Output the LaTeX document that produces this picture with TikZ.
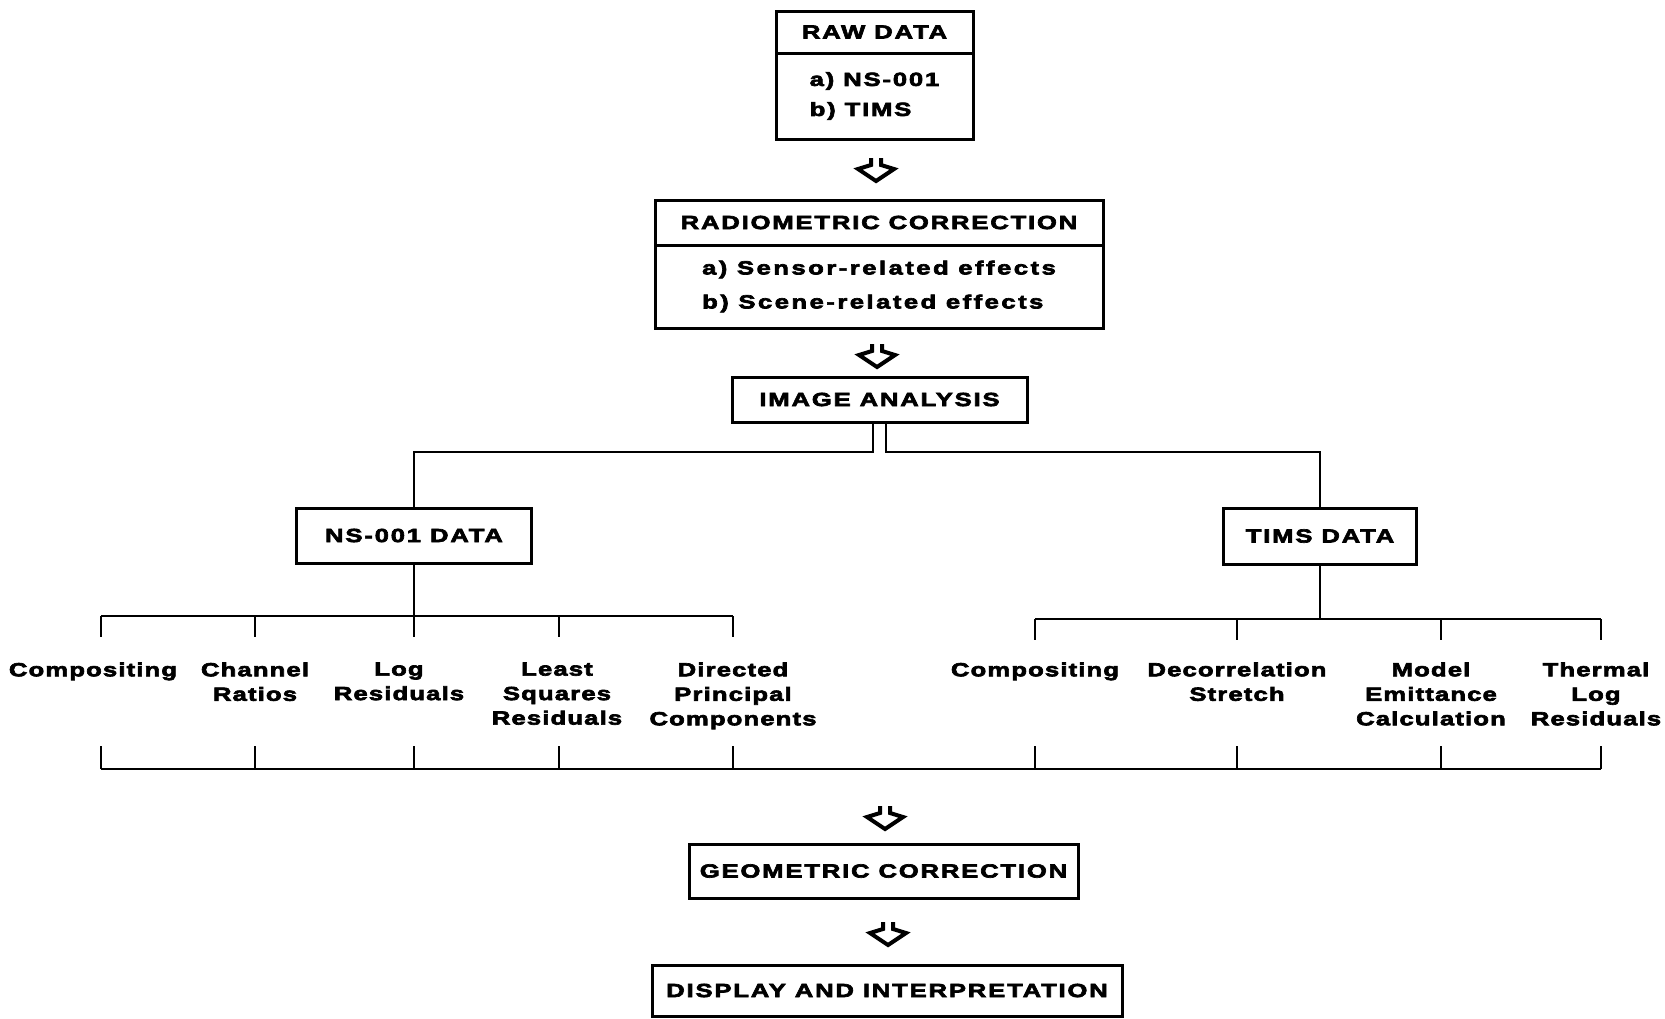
\documentclass[tikz,border=0pt]{standalone}
\usepackage{fontspec}
\setmainfont{Liberation Sans}
\newfontfamily\capsfont{Liberation Sans Bold}[LetterSpace=9.5,FakeStretch=1.35,FakeBold=3.5]
\newfontfamily\listfont{Liberation Sans Bold}[LetterSpace=13,FakeStretch=1.35,FakeBold=3.5]
\newfontfamily\itemfont{Liberation Sans Bold}[LetterSpace=6,FakeStretch=1.35,FakeBold=3.5]
\usepackage{tikz}
\usetikzlibrary{positioning}
\tikzstyle{chart}=[
  x=0.5pt,y=-0.5pt,line width=1.5pt
]
\tikzstyle{headbox}=[
  draw,rectangle,inner sep=0pt,outer sep=0pt,font=\capsfont\fontsize{9.5}{12}\selectfont
]
\tikzstyle{listbox}=[
  draw,rectangle,inner sep=0pt,outer sep=0pt,align=left,font=\listfont\fontsize{9.5}{15}\selectfont
]
\tikzstyle{item}=[
  inner sep=0pt,align=center,anchor=north,font=\itemfont\fontsize{9.5}{12.25}\selectfont
]
\tikzstyle{wire}=[
  line width=1.4pt
]
\tikzset{fatdown/.pic={
  \draw [line width=2pt] (-5,-12) -- (-5,-5) -- (-18,-1) -- (0,11) -- (18,-1) -- (5,-5) -- (5,-12);
}}

\begin{document}
\begin{tikzpicture}[chart]
  \useasboundingbox (0,0) rectangle (1665,1018);
  % boxes
  \node (raw) at (874.5,32) [headbox,minimum width=98.5pt,minimum height=21pt] {RAW DATA};
  \node (rawlist) [listbox,below=0pt of raw,minimum width=98.5pt,minimum height=43pt,font=\capsfont\fontsize{9.5}{15}\selectfont] {a) NS-001\\b) TIMS};
  \node (radio) at (879,222.5) [headbox,minimum width=224pt,minimum height=22.5pt] {RADIOMETRIC CORRECTION};
  \node (radiolist) [listbox,below=0pt of radio,minimum width=224pt,minimum height=41.5pt,font=\listfont\fontsize{9.5}{17}\selectfont] {a) Sensor-related effects\\b) Scene-related effects};
  \node (image) at (879.5,399.5) [headbox,minimum width=147.5pt,minimum height=22.5pt] {IMAGE ANALYSIS};
  \node (ns) at (414,535.5) [headbox,minimum width=117.5pt,minimum height=27.5pt] {NS-001 DATA};
  \node (tims) at (1320,536) [headbox,minimum width=96.5pt,minimum height=28pt] {TIMS DATA};
  \node (geo) at (883.5,871) [headbox,minimum width=194.5pt,minimum height=27pt] {GEOMETRIC CORRECTION};
  \node (disp) at (887,990.5) [headbox,minimum width=235pt,minimum height=25.5pt] {DISPLAY AND INTERPRETATION};
  % arrows
  \pic at (876,170) {fatdown};
  \pic at (877,356) {fatdown};
  \pic at (885,818) {fatdown};
  \pic at (888,934) {fatdown};
  % split
  \draw [wire] ([xshift=-3.25pt]image.south) -- ++(0,30) -| (ns.north);
  \draw [wire] ([xshift=3.25pt]image.south) -- ++(0,30) -| (tims.north);
  \draw [wire] (ns.south) -- ++(0,53);
  \draw [wire] (tims.south) -- ++(0,55);
  % methods
  \foreach \x/\dx/\y/\name/\txt in {
      101/-8/616/l1/Compositing,
      255/0/616/l2/{Channel\\Ratios},
      414/-15/616/l3/{Log\\Residuals},
      559/-2/616/l4/{Least\\Squares\\Residuals},
      733/0/616/l5/{Directed\\Principal\\Components},
      1035/0/619/r1/Compositing,
      1237/0/619/r2/{Decorrelation\\Stretch},
      1441/-10/619/r3/{Model\\Emittance\\Calculation},
      1601/-5/619/r4/{Thermal\\Log\\Residuals}} {
    \node (\name) at (\x+\dx,661) [item] {\txt};
    \coordinate (\name-top) at (\x,\y);
    \coordinate (\name-bot) at (\x,769);
    \draw [wire] (\name-top) -- ++(0,21);
    \draw [wire] (\name-bot) -- ++(0,-23);
  }
  \draw [wire] (l1-top) -- (l5-top);
  \draw [wire] (r1-top) -- (r4-top);
  \draw [wire] (l1-bot) -- (r4-bot);
\end{tikzpicture}
\end{document}
